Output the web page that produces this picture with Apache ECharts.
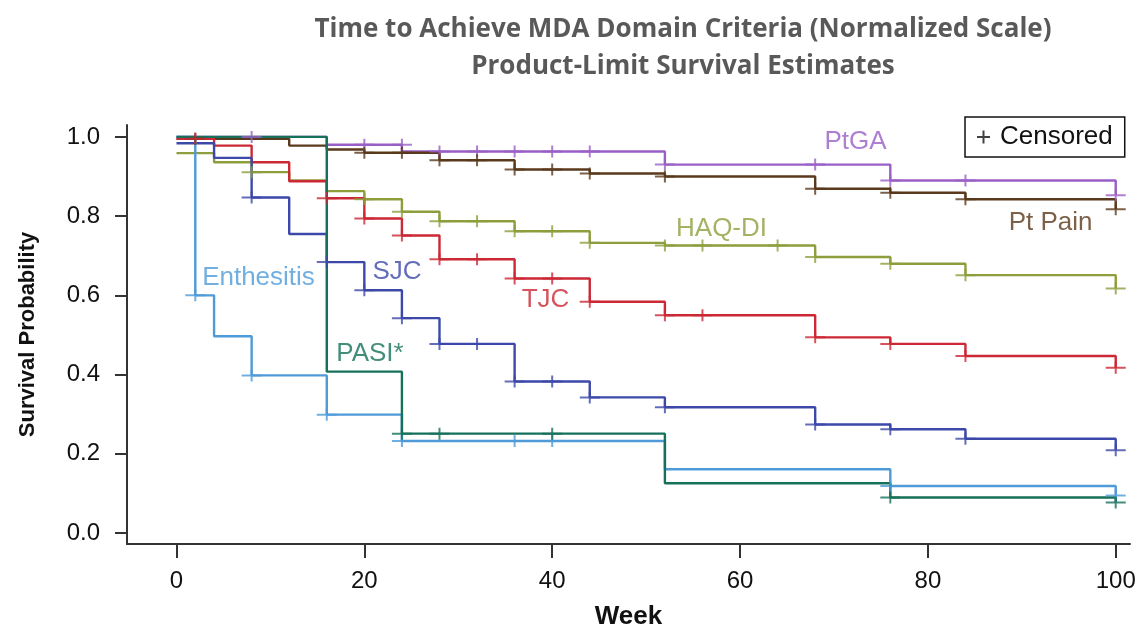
<!DOCTYPE html>
<html><head><meta charset="utf-8">
<script src="https://cdn.jsdelivr.net/npm/echarts@6/dist/echarts.min.js"></script>
<style>html,body{margin:0;padding:0;background:#fff}#c{width:1140px;height:635px}</style>
</head><body><div id="c"></div>
<script>
// ---- data (week, survival probability) ----
const xTicks = [0, 20, 40, 60, 80, 100];
const yTicks = [0, 0.2, 0.4, 0.6, 0.8, 1.0];

const curveNames = ['PtGA', 'Pt Pain', 'HAQ-DI', 'TJC', 'SJC', 'Enthesitis', 'PASI*'];

const ptgaSteps = [[0,1.0],[16,0.98],[24,0.963],[52,0.93],[76,0.89],[100,0.853]];
const ptgaCensor = [[8,1.0],[20,0.98],[24,0.98],[28,0.963],[32,0.963],[36,0.963],[40,0.963],[44,0.963],[52,0.93],[68,0.93],[76,0.89],[84,0.89],[100,0.853]];

const painSteps = [[0,0.995],[12,0.978],[16,0.968],[20,0.96],[28,0.941],[36,0.9175],[44,0.9075],[52,0.90],[68,0.869],[76,0.859],[84,0.8425],[100,0.8175]];
const painCensor = [[2,0.995],[20,0.96],[24,0.96],[28,0.941],[32,0.941],[36,0.9175],[40,0.9175],[44,0.9075],[52,0.90],[68,0.869],[76,0.859],[84,0.8425],[100,0.8175]];

const haqSteps = [[0,0.959],[4,0.936],[8,0.911],[12,0.89],[16,0.863],[20,0.8425],[24,0.811],[28,0.787],[36,0.762],[44,0.7325],[52,0.726],[68,0.697],[76,0.68],[84,0.651],[100,0.6175]];
const haqCensor = [[8,0.911],[20,0.8425],[24,0.811],[28,0.787],[32,0.787],[36,0.762],[40,0.762],[44,0.7325],[52,0.726],[56,0.726],[64,0.726],[68,0.697],[76,0.68],[84,0.651],[100,0.6175]];

const tjcSteps = [[0,0.995],[4,0.978],[8,0.936],[12,0.888],[16,0.845],[20,0.794],[24,0.751],[28,0.691],[36,0.6425],[44,0.584],[52,0.55],[68,0.494],[76,0.4775],[84,0.447],[100,0.4175]];
const tjcCensor = [[2,0.995],[16,0.845],[20,0.794],[24,0.751],[28,0.691],[32,0.691],[36,0.6425],[40,0.6425],[44,0.584],[52,0.55],[56,0.55],[68,0.494],[76,0.4775],[84,0.447],[100,0.4175]];

const sjcSteps = [[0,0.984],[4,0.947],[8,0.847],[12,0.755],[16,0.684],[20,0.613],[24,0.5425],[28,0.4775],[36,0.3825],[44,0.3425],[52,0.3175],[68,0.274],[76,0.262],[84,0.238],[100,0.209]];
const sjcCensor = [[8,0.847],[16,0.684],[20,0.613],[24,0.5425],[28,0.4775],[32,0.4775],[36,0.3825],[40,0.3825],[44,0.3425],[52,0.3175],[68,0.274],[76,0.262],[84,0.238],[100,0.209]];

const enthSteps = [[0,1.0],[2,0.6],[4,0.497],[8,0.398],[16,0.299],[24,0.2325],[52,0.161],[76,0.119],[100,0.095]];
const enthCensor = [[2,0.6],[8,0.398],[16,0.299],[24,0.2325],[36,0.2325],[40,0.2325],[76,0.119],[100,0.095]];

const pasiSteps = [[0,1.0],[16,0.4075],[24,0.251],[52,0.126],[76,0.09],[100,0.0775]];
const pasiCensor = [[24,0.251],[28,0.251],[40,0.251],[76,0.09],[100,0.0775]];

// ---- styling / layout ----
const colors = ['#9a5fc6', '#5a3a1c', '#8c9f3c', '#cc2835', '#3c49a9', '#4f9bd9', '#17705a'];
const steps = [ptgaSteps, painSteps, haqSteps, tjcSteps, sjcSteps, enthSteps, pasiSteps];
const censors = [ptgaCensor, painCensor, haqCensor, tjcCensor, sjcCensor, enthCensor, pasiCensor];
// label anchor positions (data space) for curve names
const labelAnchors = [[72.3,0.987],[93.06,0.784],[58.03,0.769],[39.29,0.589],[23.48,0.659],[8.73,0.644],[20.6,0.452]];

const plusPath = 'path://M0,5H20V7H0Z M9,0H11V12H9Z';
const legendPlus = 'path://M0,5.5H13V7.5H0Z M5.5,0H7.5V13H5.5Z';
const baseFont = 'Liberation Sans, Arial, Helvetica, sans-serif';

const series = [];
steps.forEach((d, i) => {
  series.push({
    type: 'line', name: curveNames[i], data: d, step: 'end',
    symbol: 'none', lineStyle: { color: colors[i], width: 2.4 }, z: 2, silent: true
  });
});
censors.forEach((d, i) => {
  series.push({
    type: 'scatter', name: 'Censored', data: d, symbol: plusPath, symbolSize: [20, 12],
    itemStyle: { color: colors[i] }, z: 3, silent: true
  });
});
series.push({
  type: 'scatter', name: 'labels', symbolSize: 0, silent: true, z: 4,
  data: curveNames.map((n, i) => ({ name: n, value: labelAnchors[i],
    label: { color: colors[i] } })),
  label: { show: true, position: 'inside', formatter: '{b}', fontSize: 26, fontFamily: baseFont }
});

const chart = echarts.init(document.getElementById('c'));
chart.setOption({
  animation: false,
  backgroundColor: '#fff',
  grid: { left: 127, right: 10, top: 125, bottom: 87, containLabel: false },
  legend: {
    left: 965, top: 117, orient: 'horizontal',
    data: [{ name: 'Censored', icon: legendPlus, itemStyle: { color: '#111' } }],
    itemWidth: 13, itemHeight: 13,
    padding: [7, 12, 7, 12],
    borderColor: '#111', borderWidth: 1.5, borderRadius: 0,
    textStyle: { fontSize: 26, color: '#111', fontFamily: baseFont, padding: [0, 0, 0, 5] },
    selectedMode: false
  },
  xAxis: {
    type: 'value', min: -5.27, max: 101.52,
    name: 'Week', nameLocation: 'middle', nameGap: 60,
    nameTextStyle: { fontSize: 26, fontWeight: 'bold', color: '#111', fontFamily: baseFont },
    axisLine: { show: true, onZero: false, lineStyle: { color: '#333', width: 2 } },
    axisTick: { show: true, length: 14, customValues: xTicks, lineStyle: { color: '#333', width: 2 } },
    axisLabel: { customValues: xTicks, margin: 25, fontSize: 24, color: '#111', fontFamily: baseFont },
    splitLine: { show: false }
  },
  yAxis: {
    type: 'value', min: -0.0275, max: 1.03,
    name: 'Survival Probability', nameLocation: 'middle', nameGap: 88, nameRotate: 90,
    nameTextStyle: { fontSize: 22, fontWeight: 'bold', color: '#111', fontFamily: baseFont },
    axisLine: { show: true, onZero: false, lineStyle: { color: '#333', width: 2 } },
    axisTick: { show: true, length: 12, customValues: yTicks, lineStyle: { color: '#333', width: 2 } },
    axisLabel: { customValues: yTicks, margin: 27, fontSize: 24, color: '#111', fontFamily: baseFont,
      formatter: v => v.toFixed(1) },
    splitLine: { show: false }
  },
  graphic: [
    { type: 'text', x: 683, y: 30, style: { text: 'Time to Achieve MDA Domain Criteria (Normalized Scale)',
      align: 'center', verticalAlign: 'middle', fill: '#595959', font: 'bold 26px "Open Sans", sans-serif' } },
    { type: 'text', x: 683, y: 67, style: { text: 'Product-Limit Survival Estimates',
      align: 'center', verticalAlign: 'middle', fill: '#595959', font: 'bold 26px "Open Sans", sans-serif' } }
  ],
  series: series
});
</script></body></html>
